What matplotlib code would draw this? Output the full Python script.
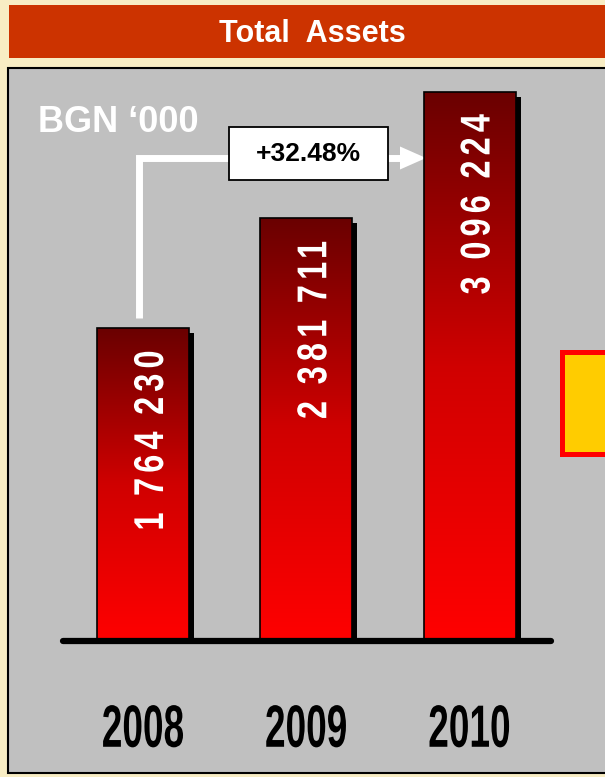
import matplotlib
matplotlib.use('Agg')
import matplotlib.pyplot as plt
import matplotlib.transforms as mtransforms
from matplotlib import font_manager as fm
from matplotlib.colors import LinearSegmentedColormap
from matplotlib.patches import Rectangle, Polygon
from matplotlib.patheffects import AbstractPathEffect
from matplotlib.path import Path
import numpy as np

# =========================
# Données
# =========================
years = ["2008", "2009", "2010"]
assets = [1764230, 2381711, 3096224]   # BGN '000
title = "Total  Assets"
unit = "BGN \u2018000"

# croissance annuelle moyenne 2008 -> 2010
cagr = ((assets[-1] / assets[0]) ** (1 / (len(assets) - 1)) - 1) * 100
growth_label = f"+{cagr:.2f}%"

# polices
names = {f.name for f in fm.fontManager.ttflist}
base_font = "Liberation Sans" if "Liberation Sans" in names else "DejaVu Sans"
plt.rcParams['font.family'] = [base_font, 'DejaVu Sans']


# effet pour obtenir un texte "étroit" (le texte reste un vrai texte)
class Squeeze(AbstractPathEffect):
    def __init__(self, sx, per_glyph=False):
        super().__init__()
        self.sx = sx
        self.per_glyph = per_glyph

    def draw_path(self, renderer, gc, tpath, affine, rgbFace=None):
        verts = tpath.vertices.copy()
        codes = tpath.codes
        if codes is None:
            codes = np.full(len(verts), Path.LINETO, dtype=Path.code_type)
            codes[0] = Path.MOVETO
        ok = codes != Path.CLOSEPOLY
        if not self.per_glyph:
            c = (verts[ok, 0].min() + verts[ok, 0].max()) / 2
            verts[:, 0] = c + (verts[:, 0] - c) * self.sx
        else:
            starts = list(np.where(codes == Path.MOVETO)[0]) + [len(verts)]
            subs = []
            for a, b in zip(starts[:-1], starts[1:]):
                m = ok[a:b]
                xs = verts[a:b, 0][m]
                subs.append([xs.min(), xs.max(), a, b])
            subs.sort(key=lambda s: s[0])
            groups = []
            for s in subs:
                if groups and s[0] < groups[-1][1]:
                    groups[-1][1] = max(groups[-1][1], s[1])
                    groups[-1][2].append((s[2], s[3]))
                else:
                    groups.append([s[0], s[1], [(s[2], s[3])]])
            for g in groups:
                c = (g[0] + g[1]) / 2
                for a, b in g[2]:
                    verts[a:b, 0] = c + (verts[a:b, 0] - c) * self.sx
        renderer.draw_path(gc, Path(verts, codes), affine, rgbFace)


W, H = 605, 777
fig = plt.figure(figsize=(W / 100, H / 100), dpi=100)

# fond + décor en coordonnées pixels
bg = fig.add_axes([0, 0, 1, 1])
bg.set_xlim(0, W)
bg.set_ylim(H, 0)
bg.axis('off')
bg.add_patch(Rectangle((0, 0), W, H, facecolor="#F8EDC4", edgecolor="none"))
bg.add_patch(Rectangle((9, 5), W, 53, facecolor="#CC3300", edgecolor="none"))
bg.text(312, 34, title, color="white", fontsize=22, fontweight="bold",
        ha="center", va="center")
bg.add_patch(Rectangle((8, 68), W + 10, 705, facecolor="#C0C0C0",
                       edgecolor="black", lw=1.5))

# encadré jaune à droite
bg.add_patch(Rectangle((561.5, 351.5), 60, 102, facecolor="#FFCC00",
                       edgecolor="#FF0000", lw=3.6))

# unité
bg.text(38, 122, unit, color="white", fontsize=26, fontweight="bold",
        ha="left", va="center")

# flèche de croissance
bg.plot([138.5, 138.5, 402], [318, 158, 158], color="white", lw=5,
        solid_joinstyle="miter", solid_capstyle="butt", zorder=3)
bg.add_patch(Polygon([[400, 146.5], [426, 158], [400, 169.5]],
                     closed=True, facecolor="white", edgecolor="none", zorder=3))
bg.add_patch(Rectangle((229, 127), 159, 53, facecolor="white",
                       edgecolor="black", lw=1.3, zorder=4))
bg.text(308.5, 154, growth_label, color="black", fontsize=19,
        fontweight="bold", ha="center", va="center", zorder=5)

# =========================
# Graphique
# =========================
x0, x1 = 60, 554       # ligne de base (px)
y_base, y_top = 641, 68
ax = fig.add_axes([x0 / W, (H - y_base) / H, (x1 - x0) / W, (y_base - y_top) / H])
ax.patch.set_alpha(0)
ax.axis('off')

pos = np.arange(len(years))
px_per_unit = 163.25
xmin = -(143 - x0) / px_per_unit
xmax = xmin + (x1 - x0) / px_per_unit
ymax = (y_base - y_top) / 313 * assets[0]
width = 92 / px_per_unit

# ombre
shadow = ax.transData + mtransforms.ScaledTranslation(5 / 100, -5 / 100, fig.dpi_scale_trans)
ax.bar(pos, assets, width=width, color="black", transform=shadow, zorder=2)

bars = ax.bar(pos, assets, width=width, color="none", edgecolor="black",
              lw=1.2, zorder=4)

cmap = LinearSegmentedColormap.from_list("rouge", ["#FF0000", "#D00000", "#6A0000"])
grad = np.linspace(0, 1, 256).reshape(-1, 1)
for b in bars:
    bx, by = b.get_x(), b.get_y()
    im = ax.imshow(grad, cmap=cmap, aspect="auto", origin="lower",
                   extent=(bx, bx + b.get_width(), by, by + b.get_height()),
                   zorder=3)
    im.set_clip_path(b)

ax.set_xlim(xmin, xmax)
ax.set_ylim(0, ymax)

# ligne de base
ax.plot([xmin + 0.02, xmax - 0.02], [0, 0],
        color="black", lw=4.5, solid_capstyle="round", zorder=5,
        clip_on=False)

# valeurs dans les barres
for p, v in zip(pos, assets):
    lab = f"{v:,}".replace(",", " ")
    ax.annotate(lab, (p, v), xytext=(6.5, -14.5), textcoords="offset points",
                rotation=90, ha="center", va="top", color="white",
                fontsize=30, fontweight="bold", zorder=6,
                path_effects=[Squeeze(0.78, per_glyph=True)])

# années
for p, yr in zip(pos, years):
    ax.annotate(yr, (p, 0), xytext=(0, -65), textcoords="offset points",
                ha="center", va="center", color="black", fontsize=43,
                fontweight="bold", annotation_clip=False,
                path_effects=[Squeeze(0.62)])

plt.savefig("out.png", dpi=100)
print("Graphique sauvegarde sous 'out.png'")
